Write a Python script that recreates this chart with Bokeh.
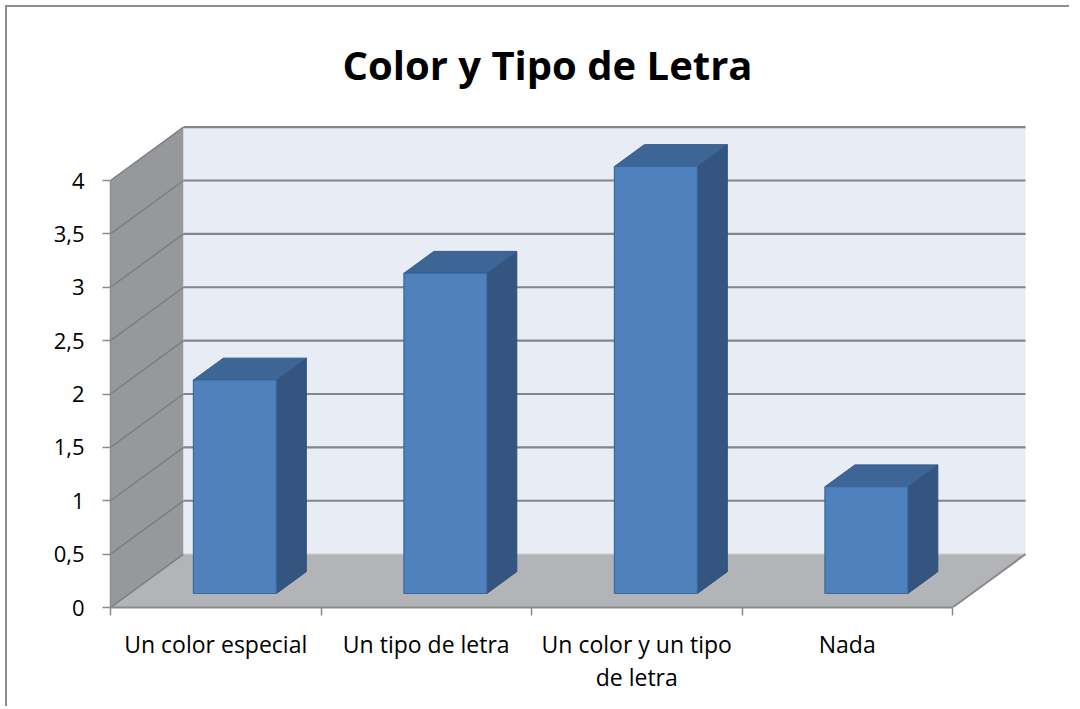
from bokeh.plotting import figure
from bokeh.models import FixedTicker, CustomJSTickFormatter, Range1d
from bokeh.embed import file_html
from bokeh.resources import INLINE

# ---------------- data ----------------
title_text = "Color y Tipo de Letra"
categories = ["Un color especial", "Un tipo de letra", "Un color y un tipo\nde letra", "Nada"]
values = [2, 3, 4, 1]
y_ticks = [0, 0.5, 1, 1.5, 2, 2.5, 3, 3.5, 4]

# ---------------- 3D geometry (data units) ----------------
DX = 0.347   # depth offset along x (category units)
DY = 0.5     # depth offset along y (value units)
BW = 0.394   # bar width (category units)
D0 = 0.262   # bar front depth fraction
DD = 0.41    # bar depth fraction
n = len(categories)
y_max = max(y_ticks)

PX_CAT = 210.5
PX_VAL = 106.75
W, H = 1064, 701
ML, MR, MT, MB = 103, 39, 111, 101
frame_w = W - ML - MR
frame_h = H - MT - MB

FONT = "Open Sans"

p = figure(width=W, height=H, output_backend="svg", toolbar_location=None,
           x_range=Range1d(0, frame_w / PX_CAT), y_range=Range1d(0, frame_h / PX_VAL),
           min_border_left=ML, min_border_right=MR, min_border_top=MT, min_border_bottom=MB)
p.styles = {"border-left": "2px solid #8e8e8e", "border-top": "2px solid #8e8e8e",
            "margin-left": "5px", "margin-top": "5px"}
p.outline_line_color = None
p.xgrid.visible = False
p.ygrid.visible = False
p.background_fill_color = "white"
p.border_fill_color = "white"

# title
p.title.text = title_text
p.title.align = "left"
p.title.text_font = FONT
p.title.text_font_style = "bold"
p.title.text_font_size = "40px"
p.title.text_color = "black"
p.title.offset = 232
p.title.standoff = 54

# ---------------- walls ----------------
p.patch([0, 0, DX, DX], [0, y_max, y_max + DY, DY], fill_color="#97989c", line_color=None)
p.quad(left=[DX], right=[n + DX], bottom=[DY], top=[y_max + DY], fill_color="#e8ecf5", line_color=None)
p.patch([0, n, n + DX, DX], [0, 0, DY, DY], fill_color="#b2b4b8", line_color=None)

grid_vals = [v for v in y_ticks if v > 0]
p.segment(x0=[DX] * len(grid_vals), y0=[v + DY for v in grid_vals],
          x1=[n + DX] * len(grid_vals), y1=[v + DY for v in grid_vals],
          line_color="#858585", line_width=2.2)
p.segment(x0=[0] * len(y_ticks), y0=list(y_ticks),
          x1=[DX] * len(y_ticks), y1=[v + DY for v in y_ticks],
          line_color="#7c7d80", line_width=1.5)
p.line([DX, n + DX], [DY, DY], line_color="#c4c6cb", line_width=1.5)
p.line([n, n + DX], [0, DY], line_color="#8a8a8a", line_width=2)

# ---------------- bars ----------------
lefts = [i + 0.5 - BW / 2 + D0 * DX for i in range(n)]
rights = [l + BW for l in lefts]
bottoms = [D0 * DY] * n
tops = [v + D0 * DY for v in values]
ddx, ddy = DD * DX, DD * DY

side_xs = [[r, r, r + ddx, r + ddx] for r in rights]
side_ys = [[b, t, t + ddy, b + ddy] for b, t in zip(bottoms, tops)]
top_xs = [[l, r, r + ddx, l + ddx] for l, r in zip(lefts, rights)]
top_ys = [[t, t, t + ddy, t + ddy] for t in tops]

p.patches(side_xs, side_ys, fill_color="#33557f", line_color="#2f4f78", line_width=1)
p.patches(top_xs, top_ys, fill_color="#3d6595", line_color="#36598a", line_width=1)
p.quad(left=lefts, right=rights, bottom=bottoms, top=tops,
       fill_color="#4f81bd", line_color="#3a679c", line_width=1.2)

# ---------------- axes ----------------
xa = p.xaxis[0]
xa.ticker = FixedTicker(ticks=[i + 0.5 for i in range(n)], minor_ticks=list(range(n + 1)))
xa.formatter = CustomJSTickFormatter(args=dict(labels=categories),
                                     code="return labels[Math.floor(tick)];")
xa.bounds = (0, n)
xa.axis_line_color = "#8a8a8a"
xa.axis_line_width = 2
xa.major_tick_line_color = None
xa.minor_tick_line_color = "#8a8a8a"
xa.minor_tick_line_width = 1.5
xa.minor_tick_out = 8
xa.minor_tick_in = 0
xa.major_label_text_font = FONT
xa.major_label_text_font_size = "23px"
xa.major_label_text_color = "black"
xa.major_label_standoff = 12
xa.major_label_text_line_height = 1.05

ya = p.yaxis[0]
ya.ticker = FixedTicker(ticks=y_ticks)
ya.formatter = CustomJSTickFormatter(code="return tick.toString().replace('.', ',');")
ya.bounds = (0, y_max)
ya.axis_line_color = "#8a8a8a"
ya.axis_line_width = 1.5
ya.major_tick_line_color = "#8a8a8a"
ya.major_tick_line_width = 1.5
ya.major_tick_out = 8
ya.major_tick_in = 0
ya.minor_tick_line_color = None
ya.major_label_text_font = FONT
ya.major_label_text_font_size = "22px"
ya.major_label_text_color = "black"
ya.major_label_standoff = 18

open("out.html", "w").write(file_html(p, INLINE))
